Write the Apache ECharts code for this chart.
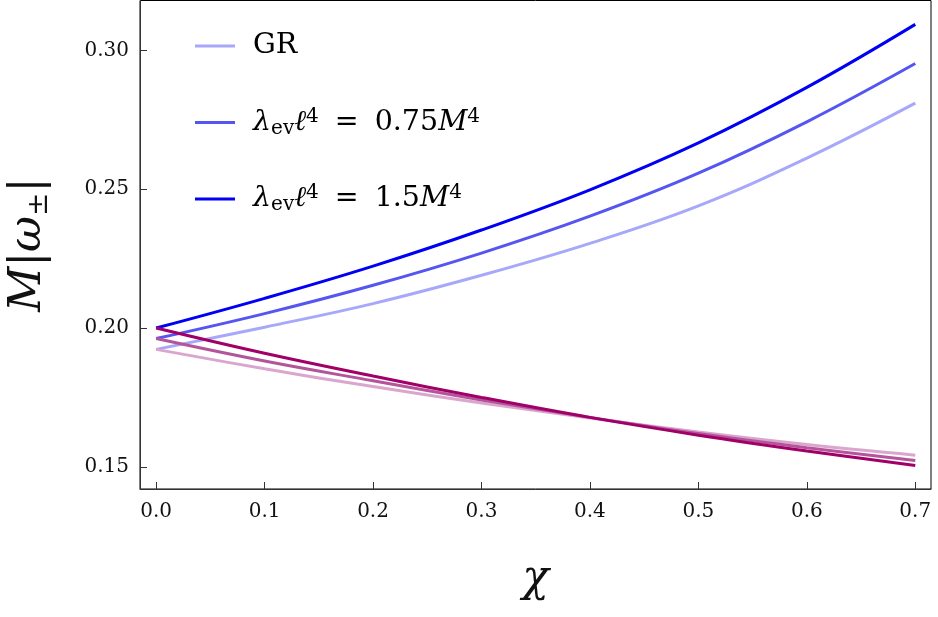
<!DOCTYPE html>
<html>
<head>
<meta charset="utf-8">
<script src="https://cdn.jsdelivr.net/npm/echarts@6/dist/echarts.min.js"></script>
<style>
html,body{margin:0;padding:0;background:#fff;}
#chart{width:938px;height:617px;}
</style>
</head>
<body>
<div id="chart"></div>
<script>
// ---- data ----
const chi = [0, 0.1, 0.2, 0.3, 0.4, 0.5, 0.6, 0.7];
const grPlus   = [0.1923, 0.2003, 0.2088, 0.2190, 0.2305, 0.2440, 0.2612, 0.2810];
const ev075Plus = [0.1962, 0.2052, 0.2154, 0.2270, 0.2403, 0.2558, 0.2743, 0.2953];
const ev15Plus  = [0.2000, 0.2107, 0.2223, 0.2353, 0.2498, 0.2667, 0.2867, 0.3094];
const grMinus   = [0.1923, 0.1853, 0.1789, 0.1730, 0.1676, 0.1625, 0.1580, 0.1542];
const ev075Minus = [0.1962, 0.1881, 0.1810, 0.1741, 0.1678, 0.1620, 0.1569, 0.1523];
const ev15Minus  = [0.2000, 0.1909, 0.1827, 0.1750, 0.1678, 0.1614, 0.1557, 0.1505];
const xTicks = [0, 0.1, 0.2, 0.3, 0.4, 0.5, 0.6, 0.7];
const yTicks = [0.15, 0.20, 0.25, 0.30];
const seriesNames = ['GR', 'ev075', 'ev15'];

const FONT = 'DejaVu Serif';
const plusColors = ['#a8a8fb', '#5555f2', '#0000f5'];
const minusColors = ['#dba6cd', '#b4559a', '#a00068'];

function pairs(ys) { return chi.map((x, i) => [x, ys[i]]); }

function mkSeries(name, ys, color) {
  return {
    name: name, type: 'line', data: pairs(ys), smooth: 0.4,
    showSymbol: false, symbol: 'none',
    lineStyle: { color: color, width: 3 },
    itemStyle: { color: color },
    emphasis: { disabled: true }
  };
}

const legendLabels = {
  'GR': '{n|GR}',
  'ev075': '{i|λ}{sub|ev}{i|ℓ}{sup|4}{eq|=}{n|0.75}{i|M}{sup|4}',
  'ev15': '{i|λ}{sub|ev}{i|ℓ}{sup|4}{eq|=}{n|1.5}{i|M}{sup|4}'
};

const LF = 28.5;
const chart = echarts.init(document.getElementById('chart'), null, { renderer: 'canvas' });
chart.setOption({
  animation: false,
  backgroundColor: '#fff',
  grid: { left: 140, right: 7, top: 0.5, bottom: 128, show: true, borderColor: '#000', borderWidth: 1,
          containLabel: false, outerBoundsMode: 'none' },
  legend: {
    orient: 'vertical', left: 190, top: 25,
    data: seriesNames,
    icon: 'rect', itemWidth: 40, itemHeight: 3, itemGap: 44.5,
    formatter: n => legendLabels[n],
    selectedMode: false,
    textStyle: {
      fontFamily: FONT, fontSize: LF, color: '#000', lineHeight: 32, padding: [0, 0, 0, 13],
      rich: {
        n: { fontFamily: FONT, fontSize: LF, lineHeight: 32, color: '#000' },
        i: { fontFamily: FONT, fontStyle: 'italic', fontSize: LF, lineHeight: 32, color: '#000' },
        eq: { fontFamily: FONT, fontSize: LF, lineHeight: 32, color: '#000', padding: [0, 16, 0, 16] },
        sub: { fontFamily: FONT, fontSize: 20, lineHeight: 18, verticalAlign: 'bottom', color: '#000' },
        sup: { fontFamily: FONT, fontSize: 20, lineHeight: 18, verticalAlign: 'top', color: '#000' }
      }
    }
  },
  xAxis: {
    type: 'value', min: -0.0149, max: 0.7145,
    splitLine: { show: false },
    axisLine: { onZero: false, lineStyle: { color: '#333', width: 1 } },
    axisTick: { inside: true, length: 7, customValues: xTicks, lineStyle: { color: '#333' } },
    axisLabel: { customValues: xTicks, formatter: v => v.toFixed(1), fontFamily: FONT, fontSize: 20, color: '#111', margin: 13 },
    name: 'χ', nameLocation: 'middle', nameGap: 69,
    nameTextStyle: { fontFamily: FONT, fontStyle: 'italic', fontSize: 44, color: '#111' }
  },
  yAxis: {
    type: 'value', min: 0.142, max: 0.318,
    splitLine: { show: false },
    axisLine: { onZero: false, lineStyle: { color: '#333', width: 1 } },
    axisTick: { inside: true, length: 7, customValues: yTicks, lineStyle: { color: '#333' } },
    axisLabel: { customValues: yTicks, formatter: v => v.toFixed(2), fontFamily: FONT, fontSize: 20, color: '#111', margin: 11 },
    name: '{i|M}|{i|ω}{s|±}|', nameLocation: 'middle', nameGap: 86, nameRotate: 90,
    nameTextStyle: {
      fontFamily: FONT, fontSize: 44, color: '#111', lineHeight: 50,
      rich: {
        i: { fontFamily: FONT, fontStyle: 'italic', fontSize: 44, lineHeight: 50, color: '#111' },
        s: { fontFamily: FONT, fontSize: 28, lineHeight: 28, verticalAlign: 'bottom', color: '#111' }
      }
    }
  },
  series: [
    mkSeries('GR', grPlus, plusColors[0]),
    mkSeries('ev075', ev075Plus, plusColors[1]),
    mkSeries('ev15', ev15Plus, plusColors[2]),
    mkSeries('GR', grMinus, minusColors[0]),
    mkSeries('ev075', ev075Minus, minusColors[1]),
    mkSeries('ev15', ev15Minus, minusColors[2])
  ]
});
</script>
</body>
</html>
